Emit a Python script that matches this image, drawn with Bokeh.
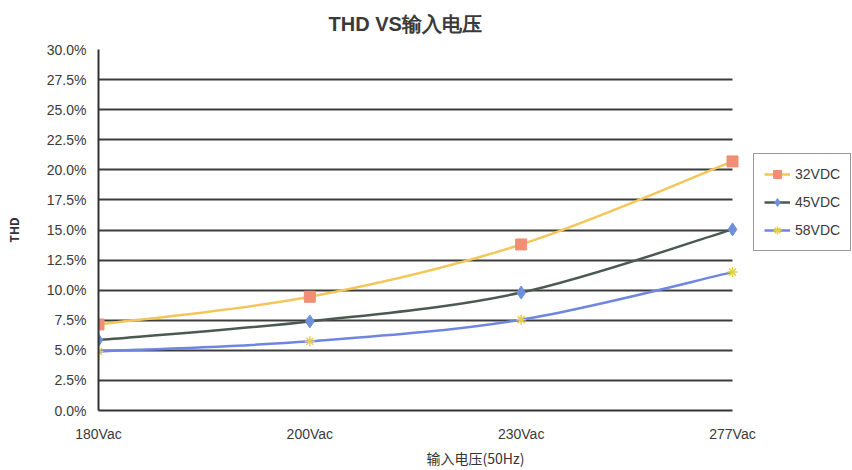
from bokeh.plotting import figure
from bokeh.models import Legend, LegendItem, ColumnDataSource, FixedTicker, Range1d
from bokeh.embed import file_html
from bokeh.resources import INLINE

categories = ["180Vac", "200Vac", "230Vac", "277Vac"]
thd_32 = [7.15, 9.45, 13.8, 20.7]
thd_45 = [5.85, 7.4, 9.8, 15.05]
thd_58 = [4.9, 5.75, 7.55, 11.5]
y_ticks = [0, 2.5, 5, 7.5, 10, 12.5, 15, 17.5, 20, 22.5, 25, 27.5, 30]
y_tick_labels = ["0.0%", "2.5%", "5.0%", "7.5%", "10.0%", "12.5%", "15.0%",
                 "17.5%", "20.0%", "22.5%", "25.0%", "27.5%", "30.0%"]
series_names = ["32VDC", "45VDC", "58VDC"]

xs = list(range(len(categories)))

# layout (pixels): plot area from x=98 to 732, legend placed to its right
W, H = 852, 470
LEFT, TOP, BOTTOM = 98, 48, 57
DATA_RIGHT = 732
last = len(categories) - 1
x_end = last * (W - LEFT) / (DATA_RIGHT - LEFT)

p = figure(width=W, height=H, output_backend="svg", toolbar_location=None,
           x_range=Range1d(0, x_end), y_range=Range1d(0, 30),
           min_border_left=LEFT, min_border_right=0, min_border_top=TOP,
           min_border_bottom=BOTTOM)

p.title.text = "THD VS输入电压"
p.title.align = "left"
p.title.vertical_align = "top"
p.title.text_font = "Liberation Sans"
p.title.text_font_size = "20px"
p.title.text_font_style = "bold"
p.title.text_color = "#3a3a3a"
p.title.offset = 230
p.title.standoff = 25

p.outline_line_color = None
p.background_fill_color = "white"
p.border_fill_color = "white"
p.xgrid.grid_line_color = None
p.ygrid.grid_line_color = "#3c3c3c"
p.ygrid.grid_line_width = 2
p.ygrid.ticker = FixedTicker(ticks=y_ticks)
p.ygrid.cross_bounds = (0, last)

p.yaxis.ticker = FixedTicker(ticks=y_ticks)
p.yaxis.major_label_overrides = {t: l for t, l in zip(y_ticks, y_tick_labels)}
p.xaxis.ticker = FixedTicker(ticks=xs)
p.xaxis.major_label_overrides = {i: c for i, c in zip(xs, categories)}
p.xaxis.bounds = (0, last)

for ax in (p.xaxis, p.yaxis):
    ax.axis_line_color = "#333333"
    ax.axis_line_width = 2
    ax.major_tick_in = 0
    ax.major_tick_out = 0
    ax.minor_tick_in = 0
    ax.minor_tick_out = 0
    ax.major_label_text_font = "Liberation Sans"
    ax.major_label_text_font_size = "14px"
    ax.major_label_text_color = "#3a3a3a"
    ax.axis_label_text_font = "Noto Sans CJK SC"
    ax.axis_label_text_color = "#333333"

p.yaxis.major_label_standoff = 12
p.xaxis.major_label_standoff = 15
p.yaxis.axis_label = "THD"
p.yaxis.axis_label_text_font_size = "12px"
p.yaxis.axis_label_text_font_style = "bold"
p.yaxis.axis_label_standoff = 22
p.xaxis.axis_label = "输入电压(50Hz)"
p.xaxis.axis_label_text_font_size = "14px"
p.xaxis.axis_label_text_font_style = "normal"
p.xaxis.axis_label_standoff = 3


def smooth_source(xv, yv, t=1.0 / 6.0):
    n = len(xv)
    d = dict(x0=[], y0=[], x1=[], y1=[], cx0=[], cy0=[], cx1=[], cy1=[])
    for i in range(n - 1):
        a = i - 1 if i > 0 else i
        b = i + 2 if i + 2 < n else i + 1
        d["x0"].append(xv[i]); d["y0"].append(yv[i])
        d["x1"].append(xv[i + 1]); d["y1"].append(yv[i + 1])
        d["cx0"].append(xv[i] + (xv[i + 1] - xv[a]) * t)
        d["cy0"].append(yv[i] + (yv[i + 1] - yv[a]) * t)
        d["cx1"].append(xv[i + 1] - (xv[b] - xv[i]) * t)
        d["cy1"].append(yv[i + 1] - (yv[b] - yv[i]) * t)
    return ColumnDataSource(d)


styles = [
    dict(line="#f3c65a", marker="square", mfill="#f08f75", mline="#f08f75", size=11, mw=1),
    dict(line="#4a5a50", marker="diamond", mfill="#6f90da", mline="#6f90da", size=13, mw=1),
    dict(line="#6f86e0", marker="asterisk", mfill="#e8cf4a", mline="#e8cf4a", size=10, mw=1.5),
]

items = []
for name, vals, st in zip(series_names, [thd_32, thd_45, thd_58], styles):
    src = smooth_source(xs, vals)
    r_line = p.bezier(x0="x0", y0="y0", x1="x1", y1="y1", cx0="cx0", cy0="cy0",
                      cx1="cx1", cy1="cy1", source=src, line_color=st["line"],
                      line_width=2.5)
    r_mk = p.scatter(xs, vals, marker=st["marker"], size=st["size"],
                     fill_color=st["mfill"], line_color=st["mline"],
                     line_width=st["mw"])
    items.append(LegendItem(label=name, renderers=[r_line, r_mk]))

legend = Legend(items=items, location=(655, 159))
legend.border_line_color = "#333333"
legend.border_line_width = 1.5
legend.background_fill_color = "white"
legend.background_fill_alpha = 1
legend.label_text_font = "Liberation Sans"
legend.label_text_font_size = "14px"
legend.label_text_color = "#3a3a3a"
legend.glyph_width = 26
legend.glyph_height = 20
legend.label_standoff = 5
legend.spacing = 8
legend.padding = 10
legend.margin = 0
p.add_layout(legend, "center")

open("out.html", "w").write(file_html(p, INLINE))
